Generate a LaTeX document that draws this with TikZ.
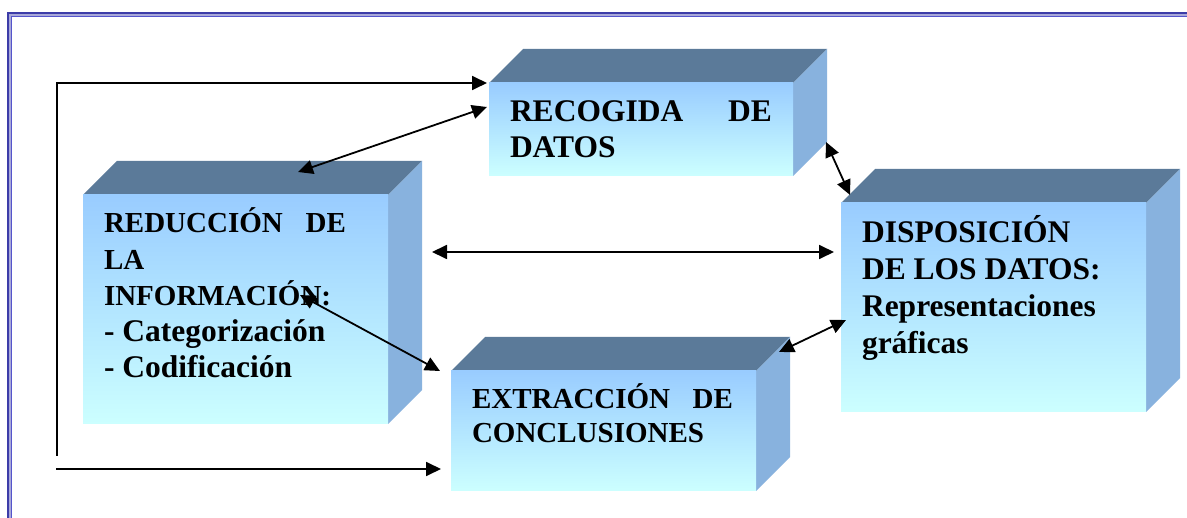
\documentclass[tikz,border=0pt]{standalone}
\usepackage{fontspec}
\setmainfont{Liberation Serif}
\usetikzlibrary{arrows.meta}
\definecolor{topc}{HTML}{5B7A99}
\definecolor{sidec}{HTML}{88B2DE}
\definecolor{frontt}{HTML}{99CCFF}
\definecolor{frontb}{HTML}{CCFFFF}
\definecolor{framedark}{HTML}{3C3CA8}
\definecolor{framelight}{HTML}{A8A8D8}
\definecolor{framein}{HTML}{5555CC}
\tikzset{
  topface/.style={fill=topc},
  sideface/.style={fill=sidec},
  frontface/.style={rectangle, inner sep=0pt, outer sep=0pt, top color=frontt, bottom color=frontb, draw=none},
  txt/.style={inner sep=0pt, outer sep=0pt, anchor=base west, font=\fontsize{31.5}{36}\selectfont\bfseries},
  conn/.style={line width=1.8pt, black},
  dbl/.style={conn, {Triangle[length=15pt,width=14pt]}-{Triangle[length=15pt,width=14pt]}},
  sgl/.style={conn, -{Triangle[length=15pt,width=14pt]}}
}
\newcommand\threedbox[5]{%
  \fill[topface] (#2,#3) -- (#2+34,#3-34) -- (#4+34,#3-34) -- (#4,#3) -- cycle;
  \fill[sideface] (#4,#3) -- (#4+34,#3-34) -- (#4+34,#5-34) -- (#4,#5) -- cycle;
  \node[frontface, anchor=north west, minimum width={(#4-#2)*1pt}, minimum height={(#5-#3)*1pt}] (#1) at (#2,#3) {};
}
\begin{document}
\begin{tikzpicture}[x=1pt,y=-1pt]
\useasboundingbox (0,0) rectangle (1187,518);
\fill[white] (0,0) rectangle (1187,518);
% frame
\draw[framedark, line width=2pt] (8,518) -- (8,13) -- (1187,13);
\draw[framelight, line width=2pt] (10,518) -- (10,15) -- (1187,15);
\draw[framein, line width=1pt] (11.5,518) -- (11.5,16.5) -- (1187,16.5);
% boxes
\threedbox{b1}{489}{83}{793}{176}
\threedbox{b2}{83}{195}{388}{424}
\threedbox{b3}{841}{203}{1146}{412}
\threedbox{b4}{451}{371}{756}{491}
% texts
\node[txt] (t1) at (510,122) {\parbox[t]{262pt}{RECOGIDA\hfill DE\\DATOS}};
\node[txt] (t2) at (104,233) {\parbox[t]{242pt}{\fontsize{29}{36.25}\selectfont REDUCCIÓN\hfill DE\\LA\\INFORMACIÓN:\\\fontsize{31.5}{36.25}\selectfont - Categorización\\- Codificación}};
\node[txt] (t3) at (862,243) {\parbox[t]{290pt}{\baselineskip=36.7pt DISPOSICIÓN\\DE LOS DATOS:\\Representaciones\\gráficas}};
\node[txt] (t4) at (472,409) {\parbox[t]{261pt}{\fontsize{29}{34}\selectfont EXTRACCIÓN\hfill DE\\CONCLUSIONES}};
% connector coordinates
\coordinate (fbBot) at (57,456);
\coordinate (fbTop) at (57,83);
\coordinate (bl) at (56,469);
\coordinate (a12) at (487,107);
\coordinate (a21) at (298,172);
\coordinate (a13) at (826,142);
\coordinate (a31) at (850,195);
\coordinate (a23) at (432,252);
\coordinate (a32) at (834,252);
\coordinate (a24) at (300,295);
\coordinate (a42) at (440,371);
\coordinate (a43) at (779,352);
\coordinate (a34) at (846,320);
% connectors
\draw[sgl, shorten >=2pt] (fbBot) -- (fbTop) -- (b1.north west);
\draw[sgl, shorten >=10pt] (bl) -- (b4.west |- bl);
\draw[dbl] (a21) -- (a12);
\draw[dbl] (a13) -- (a31);
\draw[dbl] (a23) -- (a32);
\draw[dbl] (a24) -- (a42);
\draw[dbl] (a43) -- (a34);
\end{tikzpicture}
\end{document}
